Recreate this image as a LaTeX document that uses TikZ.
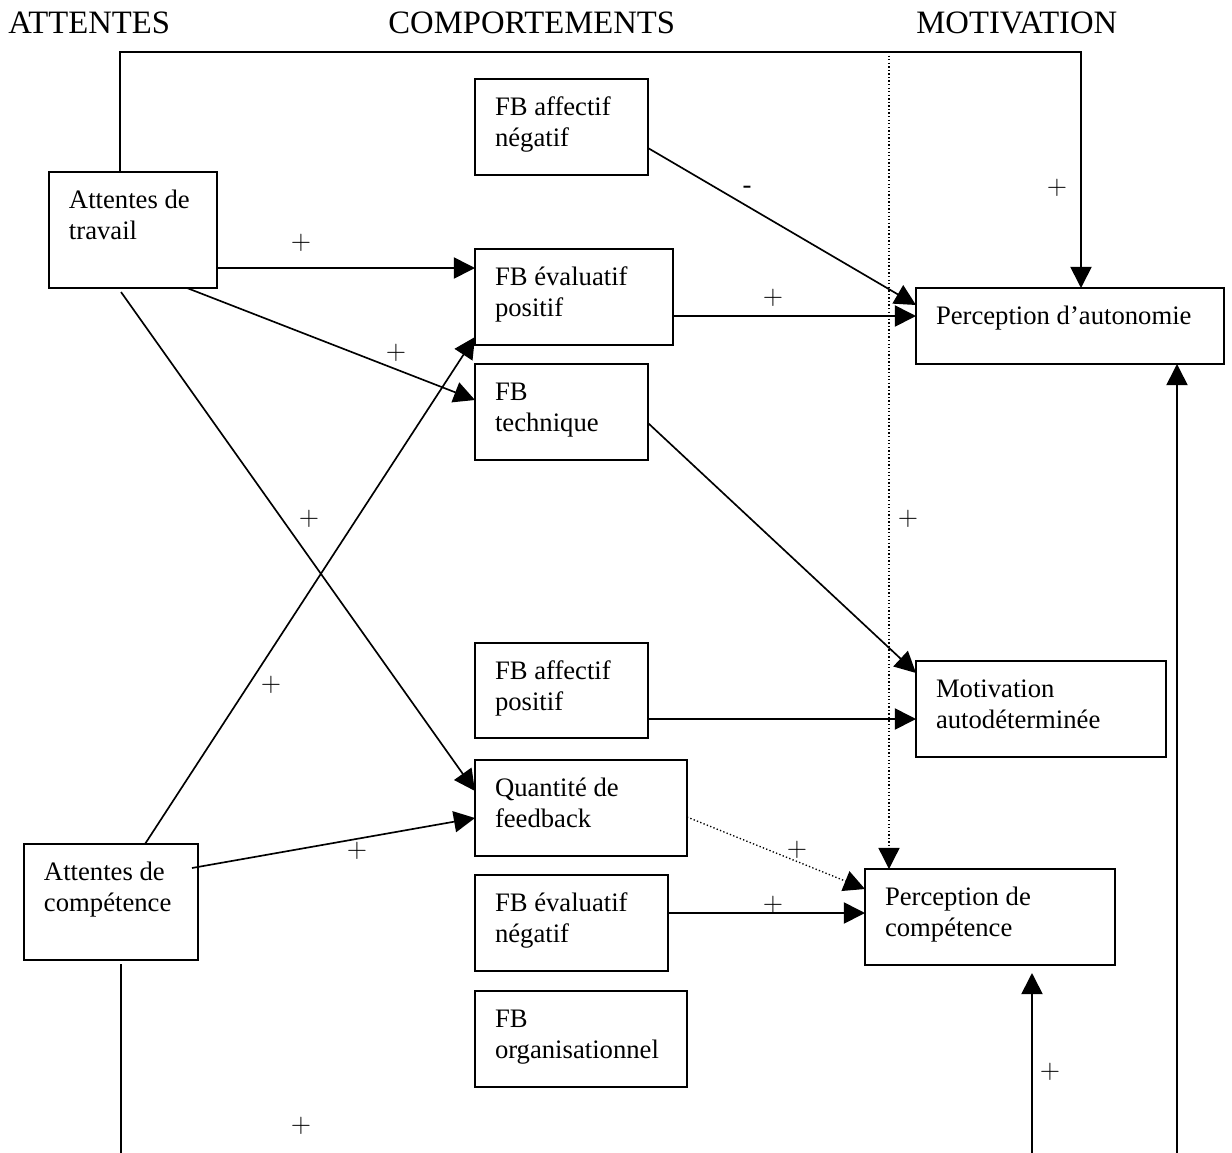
\documentclass[tikz,border=0pt]{standalone}
\usepackage{fontspec}
\setmainfont{Liberation Serif}
\usetikzlibrary{arrows.meta,calc}
\newdimen\pxu
\pxu=0.45pt
\tikzset{
  boite/.style={draw, line width=0.8pt, inner sep=0pt, outer sep=0pt,
    anchor=north west, font=\fontsize{12pt}{14pt}\selectfont},
  titre/.style={anchor=base west, inner sep=0pt,
    font=\fontsize{14.7pt}{17pt}\selectfont},
  signe/.style={inner sep=0pt, font=\fontsize{12pt}{14pt}\selectfont},
  fleche/.style={line width=0.75pt, -{Triangle[length=9.5pt,width=9.5pt]}},
  pointille/.style={line width=0.6pt, densely dotted},
}
\newcommand{\boite}[6]{%
  \node[boite] (#1) at (#2,#3)
    {\parbox[c][#5\pxu][t]{#4\pxu}{\leftskip=9pt\vspace*{6.5pt}\strut#6}};
}

\begin{document}
\begin{tikzpicture}[x=0.45pt,y=-0.45pt]
  \useasboundingbox (0,0) rectangle (1232,1153);
  \node[titre] (tAtt) at (8,33) {ATTENTES};
  \node[titre] (tComp) at (388,33) {COMPORTEMENTS};
  \node[titre] (tMot) at (916,33) {MOTIVATION};

  \boite{AT}{49}{172}{168}{116}{Attentes de\\travail}
  \boite{AC}{24}{844}{174}{116}{Attentes de\\compétence}
  \boite{FAN}{475}{79}{173}{96}{FB affectif\\négatif}
  \boite{FEP}{475}{249}{198}{96}{FB évaluatif\\positif}
  \boite{FT}{475}{364}{173}{96}{FB\\technique}
  \boite{FAP}{475}{643}{173}{95}{FB affectif\\positif}
  \boite{QF}{475}{760}{212}{96}{Quantité de\\feedback}
  \boite{FEN}{475}{875}{193}{96}{FB évaluatif\\négatif}
  \boite{FO}{475}{991}{212}{96}{FB\\organisationnel}
  \boite{PA}{916}{288}{308}{76}{Perception d’autonomie}
  \boite{MA}{916}{661}{250}{96}{Motivation\\autodéterminée}
  \boite{PC}{865}{869}{250}{96}{Perception de\\compétence}

  % attentes -> comportements
  \draw[fleche] ($(AT.south east)+(0,-20)$) coordinate (a1) -- (a1 -| FEP.west);
  \draw[fleche] ($(AT.south east)+(-30,0)$) -- ($(FT.north west)+(0,36)$);
  \draw[fleche] ($(AT.south west)+(72,4)$) -- ($(QF.north west)+(0,31)$);
  \draw[fleche] ($(AC.north west)+(121,0)$) -- ($(FEP.south west)+(0,-8)$);
  \draw[fleche] ($(AC.north east)+(-6,24)$) -- ($(QF.north west)+(0,58)$);
  % comportements -> motivation
  \draw[fleche] ($(FAN.north east)+(0,69)$) -- ($(PA.north west)+(0,17)$);
  \draw[fleche] ($(FEP.north east)+(0,67)$) coordinate (a2) -- (a2 -| PA.west);
  \draw[fleche] ($(FT.north east)+(0,59)$) -- ($(MA.north west)+(0,12)$);
  \draw[fleche] ($(FAP.north east)+(0,76)$) coordinate (a3) -- (a3 -| MA.west);
  \draw[fleche,pointille] ($(QF.north east)+(0,57)$) -- ($(PC.north west)+(0,20)$);
  \draw[fleche] ($(FEN.north east)+(0,38)$) coordinate (a4) -- (a4 -| PC.west);
  % liaisons longues
  \draw[fleche] ($(AT.north west)+(71,0)$) -- ++(0,-120) coordinate (coin)
    -| ($(PA.north west)+(165,0)$);
  \coordinate (d) at ($(PC.north west)+(24,0)$);
  \draw[fleche,pointille] (coin -| d) -- (d);
  \draw[line width=0.75pt] ($(AC.south west)+(97,4)$) -- ++(0,189);
  \coordinate (basPC) at (1032,1153);
  \coordinate (basPA) at (1177,1153);
  \draw[fleche] (basPC) -- ($(basPC |- PC.south)+(0,8)$);
  \draw[fleche] (basPA) -- (basPA |- PA.south);

  \foreach \nom/\x/\y/\s in {s1/301/243/$+$, s2/396/353/$+$, s3/309/519/$+$,
      s4/271/685/$+$, s5/357/851/$+$, s6/747/190/-, s7/773/298/$+$,
      s8/908/519/$+$, s9/797/850/$+$, s10/773/905/$+$, s11/1050/1072/$+$,
      s12/301/1126/$+$, s13/1057/188/$+$}
    \node[signe] (\nom) at (\x,\y) {\s};
\end{tikzpicture}
\end{document}
